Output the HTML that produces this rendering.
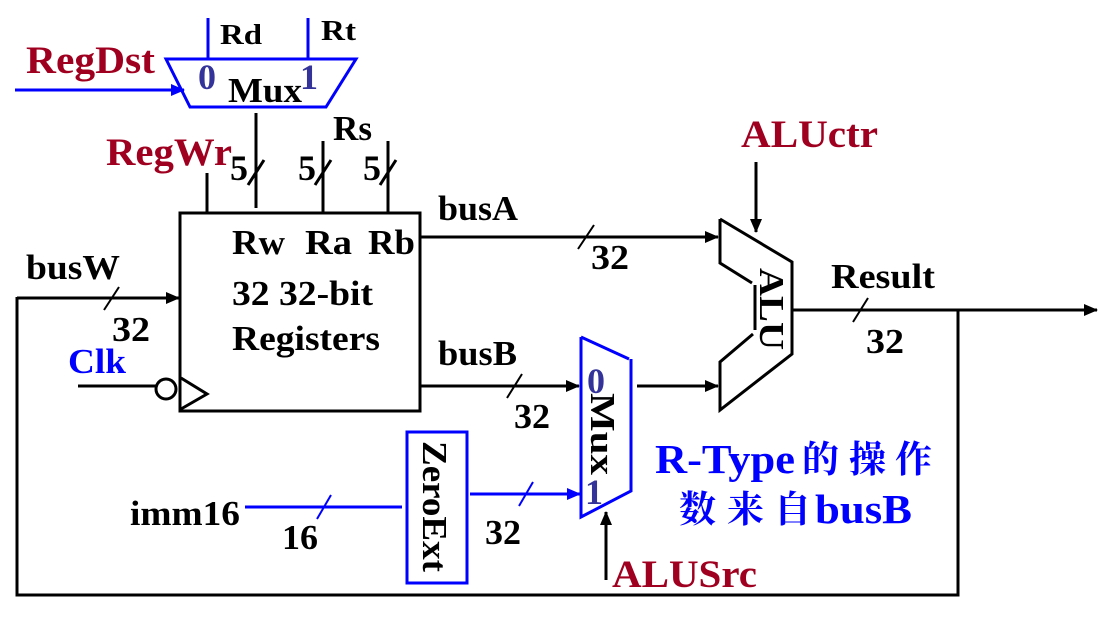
<!DOCTYPE html>
<html><head><meta charset="utf-8"><style>
html,body{margin:0;padding:0;background:#fff;width:1108px;height:623px;overflow:hidden}
svg{display:block}
text{font-family:"Liberation Serif","Noto Serif CJK SC",serif;font-weight:bold}
</style></head><body>
<svg width="1108" height="623" viewBox="0 0 1108 623">
<defs>
<marker id="ab" markerWidth="14" markerHeight="12" refX="13" refY="6" orient="auto" markerUnits="userSpaceOnUse"><path d="M0,0 L14,6 L0,12 z" fill="#000"/></marker>
<marker id="abl" markerWidth="14" markerHeight="12" refX="13" refY="6" orient="auto" markerUnits="userSpaceOnUse"><path d="M0,0 L14,6 L0,12 z" fill="#00f"/></marker>
</defs>
<g stroke="#000" stroke-width="3" fill="none">
<rect x="180" y="213" width="240" height="198"/>
<path d="M181,378 L207,394 L181,409"/>
<circle cx="166" cy="389" r="10"/>
<line x1="78" y1="386" x2="156" y2="386"/>
<line x1="207" y1="173" x2="207" y2="213"/>
<line x1="256" y1="113" x2="256" y2="208"/>
<line x1="323" y1="141" x2="323" y2="213"/>
<line x1="388" y1="141" x2="388" y2="213"/>
<line x1="248" y1="185" x2="264" y2="160"/>
<line x1="315" y1="185" x2="331" y2="160"/>
<line x1="380" y1="185" x2="396" y2="160"/>
<line x1="420" y1="237" x2="718" y2="237" marker-end="url(#ab)"/>
<line x1="578" y1="249" x2="594" y2="225" stroke-width="2"/>
<line x1="420" y1="386" x2="579" y2="386" marker-end="url(#ab)"/>
<line x1="507" y1="398" x2="522" y2="374" stroke-width="2"/>
<line x1="637" y1="386" x2="718" y2="386" marker-end="url(#ab)"/>
<path d="M720,219 L792,262 L792,354 L720,410 L720,362 L753,334"/>
<path d="M720,219 L720,263 L752,283"/>
<line x1="755" y1="285" x2="755" y2="330"/>
<line x1="756" y1="162" x2="756" y2="232" marker-end="url(#ab)"/>
<line x1="792" y1="310" x2="1097" y2="310" marker-end="url(#ab)"/>
<line x1="853" y1="322" x2="868" y2="298" stroke-width="2"/>
<path d="M958,310 L958,595 L17,595 L17,297"/>
<line x1="17" y1="298" x2="179" y2="298" marker-end="url(#ab)"/>
<line x1="104" y1="310" x2="119" y2="287" stroke-width="2"/>
<line x1="606" y1="580" x2="606" y2="512" marker-end="url(#ab)"/>
</g>
<g stroke="#00f" stroke-width="3" fill="none">
<path d="M166,59 L356,59 L326,107 L190,107 Z"/>
<line x1="208" y1="18" x2="208" y2="59"/>
<line x1="308" y1="18" x2="308" y2="59"/>
<line x1="15" y1="90" x2="184" y2="90" marker-end="url(#abl)"/>
<path d="M581,337 L629,359 M631,359 L631,491 L581,517 L581,337"/>
<rect x="407" y="432" width="60" height="151"/>
<line x1="245" y1="507" x2="402" y2="507"/>
<line x1="317" y1="519" x2="331" y2="495" stroke-width="2"/>
<line x1="470" y1="494" x2="580" y2="494" marker-end="url(#abl)"/>
<line x1="519" y1="506" x2="533" y2="482" stroke-width="2"/>
</g>
<g font-size="35" fill="#000">
<text x="220" y="44" font-size="29" textLength="42" lengthAdjust="spacingAndGlyphs">Rd</text>
<text x="321" y="40" font-size="29" textLength="35" lengthAdjust="spacingAndGlyphs">Rt</text>
<text x="228" y="102" textLength="74" lengthAdjust="spacingAndGlyphs">Mux</text>
<text x="333" y="140" textLength="39" lengthAdjust="spacingAndGlyphs">Rs</text>
<text x="230" y="180" font-size="36">5</text>
<text x="298" y="180" font-size="36">5</text>
<text x="363" y="180" font-size="36">5</text>
<text x="232" y="254" textLength="53" lengthAdjust="spacingAndGlyphs">Rw</text>
<text x="305" y="254" textLength="47" lengthAdjust="spacingAndGlyphs">Ra</text>
<text x="368" y="254" textLength="47" lengthAdjust="spacingAndGlyphs">Rb</text>
<text x="232" y="305" textLength="141" lengthAdjust="spacingAndGlyphs">32 32-bit</text>
<text x="232" y="350" textLength="148" lengthAdjust="spacingAndGlyphs">Registers</text>
<text x="26" y="279" textLength="94" lengthAdjust="spacingAndGlyphs">busW</text>
<text x="112" y="341" textLength="38" lengthAdjust="spacingAndGlyphs">32</text>
<text x="438" y="220" textLength="80" lengthAdjust="spacingAndGlyphs">busA</text>
<text x="591" y="269" textLength="38" lengthAdjust="spacingAndGlyphs">32</text>
<text x="438" y="365" textLength="79" lengthAdjust="spacingAndGlyphs">busB</text>
<text x="514" y="428" textLength="36" lengthAdjust="spacingAndGlyphs">32</text>
<text x="831" y="288" textLength="104" lengthAdjust="spacingAndGlyphs">Result</text>
<text x="866" y="353" textLength="38" lengthAdjust="spacingAndGlyphs">32</text>
<text x="130" y="525" textLength="110" lengthAdjust="spacingAndGlyphs">imm16</text>
<text x="282" y="549" textLength="36" lengthAdjust="spacingAndGlyphs">16</text>
<text x="485" y="544" textLength="36" lengthAdjust="spacingAndGlyphs">32</text>
<text transform="translate(760,268) rotate(90)" textLength="82" lengthAdjust="spacingAndGlyphs">ALU</text>
<text transform="translate(591,393) rotate(90)" textLength="82" lengthAdjust="spacingAndGlyphs">Mux</text>
<text transform="translate(423,441) rotate(90)" textLength="131" lengthAdjust="spacingAndGlyphs">ZeroExt</text>
</g>
<g fill="#33339a" font-size="36">
<text x="198" y="89">0</text>
<text x="300" y="89">1</text>
<text x="587" y="393">0</text>
<text x="585" y="504">1</text>
</g>
<g fill="#a00020" font-size="39">
<text x="26" y="73" textLength="129" lengthAdjust="spacingAndGlyphs">RegDst</text>
<text x="106" y="165" textLength="126" lengthAdjust="spacingAndGlyphs">RegWr</text>
<text x="741" y="147" textLength="137" lengthAdjust="spacingAndGlyphs">ALUctr</text>
<text x="612" y="587" textLength="145" lengthAdjust="spacingAndGlyphs">ALUSrc</text>
</g>
<text x="68" y="373" fill="#00f" font-size="35" textLength="58" lengthAdjust="spacingAndGlyphs">Clk</text>
<g fill="#00f" font-size="41">
<text x="655" y="473" textLength="140" lengthAdjust="spacingAndGlyphs">R-Type</text>
<text x="802" y="472" font-size="37">的</text>
<text x="849" y="472" font-size="37">操</text>
<text x="895" y="472" font-size="37">作</text>
<text x="679" y="522" font-size="37">数</text>
<text x="727" y="522" font-size="37">来</text>
<text x="774" y="522" font-size="37">自</text>
<text x="815" y="523" textLength="97" lengthAdjust="spacingAndGlyphs">busB</text>
</g>
</svg>
</body></html>
